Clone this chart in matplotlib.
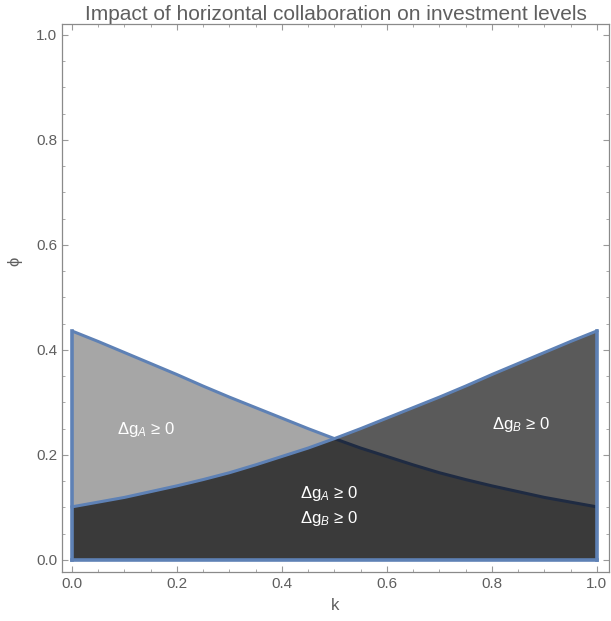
import numpy as np
import matplotlib.pyplot as plt
from matplotlib.ticker import MultipleLocator

plt.rcParams['font.family'] = ['Liberation Sans', 'DejaVu Sans']
plt.rcParams['mathtext.fontset'] = 'custom'
plt.rcParams['mathtext.rm'] = 'Liberation Sans'
plt.rcParams['mathtext.it'] = 'Liberation Sans:italic'

# k grid and the two boundary curves (phi where Delta g_B = 0 and Delta g_A = 0)
k = [0.0, 0.05, 0.1, 0.15, 0.2, 0.25, 0.3, 0.35, 0.4, 0.45, 0.5,
     0.55, 0.6, 0.65, 0.7, 0.75, 0.8, 0.85, 0.9, 0.95, 1.0]
phi_b = [0.101, 0.110, 0.119, 0.130, 0.141, 0.153, 0.166, 0.181, 0.197, 0.213, 0.231,
         0.250, 0.270, 0.290, 0.310, 0.331, 0.353, 0.374, 0.395, 0.416, 0.436]
phi_a = [0.436, 0.416, 0.395, 0.374, 0.353, 0.331, 0.310, 0.290, 0.270, 0.250, 0.231,
         0.213, 0.197, 0.181, 0.166, 0.153, 0.141, 0.130, 0.119, 0.110, 0.101]

x_ticks = [0.0, 0.2, 0.4, 0.6, 0.8, 1.0]
y_ticks = [0.0, 0.2, 0.4, 0.6, 0.8, 1.0]

light = '#a6a6a6'
mid = '#5a5a5a'
dark = '#3a3a3a'
edge = '#5e81b5'
edge_dim = '#1f2b42'
grey_txt = '#5f5f5f'

kk = np.array(k)
pa = np.array(phi_a)
pb = np.array(phi_b)
low = np.minimum(pa, pb)

fig = plt.figure(figsize=(6.11, 6.21), dpi=100)
ax = fig.add_axes([0.1015, 0.079, 0.895, 0.8825])

# regions
ax.fill_between(kk, pb, pa, where=pa >= pb, color=light, lw=0, interpolate=True)
ax.fill_between(kk, pa, pb, where=pb >= pa, color=mid, lw=0, interpolate=True)
ax.fill_between(kk, 0, low, color=dark, lw=0)

# boundaries: A's curve is dimmed where B's region sits over it
left = kk <= 0.5
right = kk >= 0.5
ax.plot(kk[left], pa[left], color=edge, lw=2.2, zorder=3, solid_capstyle='butt')
ax.plot(kk[right], pa[right], color=edge_dim, lw=2.2, zorder=3, solid_capstyle='butt')
ax.plot(kk, pb, color=edge, lw=2.2, zorder=4)
ax.plot([0, 0], [0, pa[0]], color=edge, lw=2.6, zorder=4)
ax.plot([1, 1], [0, pb[-1]], color=edge, lw=2.6, zorder=4)
ax.plot([0, 1], [0, 0], color=edge, lw=2.6, zorder=4)

lab_a = r'$\Delta\mathrm{g}_{\mathit{A}}$ ≥ 0'
lab_b = r'$\Delta\mathrm{g}_{\mathit{B}}$ ≥ 0'
ax.text(0.14, 0.248, lab_a, color='white', fontsize=12, ha='center', va='center')
ax.text(0.855, 0.257, lab_b, color='white', fontsize=12, ha='center', va='center')
ax.text(0.49, 0.126, lab_a, color='white', fontsize=12, ha='center', va='center')
ax.text(0.49, 0.078, lab_b, color='white', fontsize=12, ha='center', va='center')

ax.set_xlim(-0.019, 1.023)
ax.set_ylim(-0.023, 1.021)
ax.set_xticks(x_ticks)
ax.set_yticks(y_ticks)
ax.set_xticklabels([f'{v:.1f}' for v in x_ticks])
ax.set_yticklabels([f'{v:.1f}' for v in y_ticks])
ax.xaxis.set_minor_locator(MultipleLocator(0.05))
ax.yaxis.set_minor_locator(MultipleLocator(0.05))
ax.tick_params(which='both', direction='in', top=True, right=True, color='#9a9a9a',
               labelcolor=grey_txt, labelsize=11)
ax.tick_params(which='major', length=4, width=0.8)
ax.tick_params(which='minor', length=2, width=0.6)
for s in ax.spines.values():
    s.set_color('#8a8a8a')
    s.set_linewidth(0.9)

ax.set_xlabel('k', color=grey_txt, fontsize=12, labelpad=5)
ax.set_ylabel('ϕ', color=grey_txt, fontsize=12)
ax.yaxis.set_label_coords(-0.072, 0.566)
ax.set_title('Impact of horizontal collaboration on investment levels',
             color=grey_txt, fontsize=15, pad=2)

fig.savefig('out.png', dpi=100)
